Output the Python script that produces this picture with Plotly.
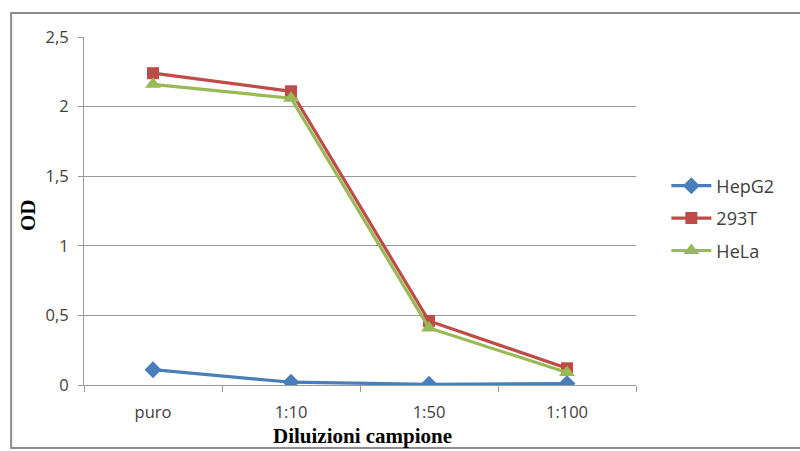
import plotly.graph_objects as go

# Sample dilutions and optical density readings per cell line
dilutions = ["puro", "1:10", "1:50", "1:100"]
hepg2 = [0.11, 0.02, 0.005, 0.01]
t293 = [2.24, 2.11, 0.46, 0.12]
hela = [2.16, 2.06, 0.41, 0.09]

y_ticks = [0, 0.5, 1, 1.5, 2, 2.5]
y_tick_labels = ["0", "0,5", "1", "1,5", "2", "2,5"]

series = [
    ("HepG2", hepg2, "#4A7EBB", "diamond", 13),
    ("293T", t293, "#BE4B48", "square", 12),
    ("HeLa", hela, "#98B954", "triangle-up", 14),
]

fig = go.Figure()
for name, vals, color, symbol, msize in series:
    fig.add_trace(go.Scatter(
        x=dilutions, y=vals, name=name, mode="lines+markers",
        legendgroup=name,
        line=dict(color=color, width=3.2),
        marker=dict(symbol=symbol, size=msize, color=color),
    ))

axis_font = dict(family="Open Sans, DejaVu Sans, sans-serif", size=16.5, color="#404040")
title_font = dict(family="Liberation Serif, Times New Roman, serif", size=21, color="black")

fig.update_layout(
    width=800, height=451,
    margin=dict(l=84, r=164, t=37, b=66),
    paper_bgcolor="white", plot_bgcolor="white",
    showlegend=True,
    legend=dict(
        x=1.055, y=0.625, xanchor="left", yanchor="top",
        font=dict(family="Open Sans, DejaVu Sans, sans-serif", size=18, color="#404040"),
        tracegroupgap=6, itemwidth=40, bgcolor="rgba(0,0,0,0)",
    ),
    xaxis=dict(
        type="category", range=[-0.5, 3.5], tickson="boundaries",
        ticks="outside", ticklen=6, automargin=False,
        tickcolor="#999", showline=True, linecolor="#999", linewidth=1,
        showgrid=False, tickfont=axis_font, ticklabelstandoff=12,
    ),
    yaxis=dict(
        range=[0, 2.5], tickvals=y_ticks, ticktext=y_tick_labels,
        ticks="outside", ticklen=5, tickcolor="#999", automargin=False,
        showline=True, linecolor="#999", linewidth=1,
        showgrid=True, gridcolor="#999", gridwidth=1, zeroline=False,
        tickfont=axis_font, ticklabelstandoff=6,
    ),
    annotations=[
        dict(text="<b>Diluizioni campione</b>", xref="paper", yref="paper",
             x=0.505, y=-0.147, xanchor="center", yanchor="middle",
             showarrow=False, font=title_font),
        dict(text="<b>OD</b>", xref="paper", yref="paper",
             x=-0.101, y=0.489, xanchor="center", yanchor="middle",
             textangle=-90, showarrow=False, font=title_font),
    ],
    shapes=[dict(
        type="rect", xref="paper", yref="paper",
        x0=-0.132, x1=1.31, y0=-0.181, y1=1.069,
        line=dict(color="#8c8c8c", width=2), layer="below",
    )],
)

fig.write_html("out.html")
